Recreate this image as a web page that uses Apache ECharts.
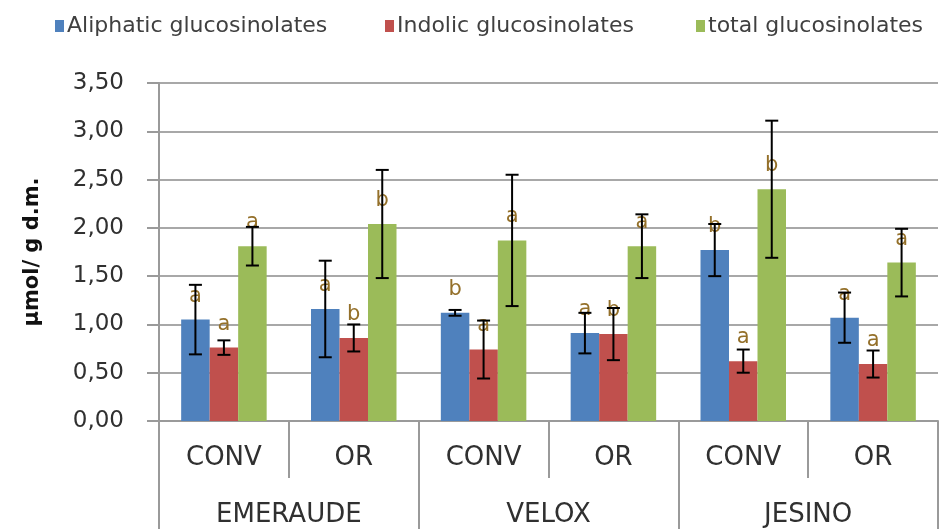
<!DOCTYPE html>
<html>
<head>
<meta charset="utf-8">
<script src="https://cdn.jsdelivr.net/npm/echarts@6/dist/echarts.min.js"></script>
<style>
  html, body { margin: 0; padding: 0; background: #fff; }
  #chart { width: 939px; height: 529px; }
</style>
</head>
<body>
<div id="chart"></div>
<script>
const treatments = ['CONV', 'OR', 'CONV', 'OR', 'CONV', 'OR'];
const varieties = ['EMERAUDE', 'VELOX', 'JESINO'];
const seriesNames = ['Aliphatic glucosinolates', 'Indolic glucosinolates', 'total glucosinolates'];
const yTicks = [0, 0.5, 1, 1.5, 2, 2.5, 3, 3.5];

const aliphatic = [1.05, 1.16, 1.12, 0.91, 1.77, 1.07];
const aliphaticErr = [0.36, 0.50, 0.03, 0.21, 0.27, 0.26];
const aliphaticLetters = ['a', 'a', 'b', 'a', 'b', 'a'];

const indolic = [0.76, 0.86, 0.74, 0.90, 0.62, 0.59];
const indolicErr = [0.075, 0.14, 0.30, 0.27, 0.12, 0.14];
const indolicLetters = ['a', 'b', 'a', 'b', 'a', 'a'];

const total = [1.81, 2.04, 1.87, 1.81, 2.40, 1.64];
const totalErr = [0.20, 0.56, 0.68, 0.33, 0.71, 0.35];
const totalLetters = ['a', 'b', 'a', 'a', 'b', 'a'];

const colors = ['#4F81BD', '#C0504D', '#9BBB59'];
const FONT = 'DejaVu Sans';
const BAR_W = 28.5;

const chart = echarts.init(document.getElementById('chart'));

const values = [aliphatic, indolic, total];
const errs = [aliphaticErr, indolicErr, totalErr];
const letters = [aliphaticLetters, indolicLetters, totalLetters];

const barSeries = values.map((vals, s) => ({
  name: seriesNames[s],
  type: 'bar',
  data: vals,
  barWidth: BAR_W,
  barGap: '0%',
  itemStyle: { color: colors[s] },
  label: {
    show: true,
    position: 'top',
    distance: 13,
    formatter: (p) => letters[s][p.dataIndex],
    color: '#94702a',
    fontFamily: FONT,
    fontSize: 21
  }
}));

// error bars drawn at each bar's centre
const errSeries = values.map((vals, s) => ({
  type: 'custom',
  z: 5,
  data: vals.map((v, i) => [i, v, errs[s][i]]),
  renderItem: function (params, api) {
    const i = api.value(0), v = api.value(1), e = api.value(2);
    const off = (s - 1) * BAR_W;
    const top = api.coord([i, v + e]);
    const bot = api.coord([i, v - e]);
    const x = top[0] + off;
    const cap = 6.5;
    const style = { stroke: '#000', lineWidth: 2 };
    return {
      type: 'group',
      children: [
        { type: 'line', shape: { x1: x, y1: top[1], x2: x, y2: bot[1] }, style },
        { type: 'line', shape: { x1: x - cap, y1: top[1], x2: x + cap, y2: top[1] }, style },
        { type: 'line', shape: { x1: x - cap, y1: bot[1], x2: x + cap, y2: bot[1] }, style }
      ]
    };
  }
}));

const legendLefts = [50, 380, 691];
const legends = seriesNames.map((n, s) => ({
  data: [n],
  left: legendLefts[s],
  top: 10,
  itemWidth: 9,
  itemHeight: 12,
  itemGap: 4,
  icon: 'rect',
  textStyle: { fontFamily: FONT, fontSize: 22, color: '#404040', padding: [0, 0, 0, -2] }
}));

const option = {
  animation: false,
  legend: legends,
  grid: { left: 159, right: 1, top: 83, bottom: 108, containLabel: false },
  xAxis: [
    {
      type: 'category',
      data: treatments,
      position: 'bottom',
      axisLine: { show: true, lineStyle: { color: '#9a9a9a', width: 2 } },
      axisTick: { show: true, interval: 0, length: 57, lineStyle: { color: '#9a9a9a', width: 2 } },
      axisLabel: { interval: 0, margin: 24, fontFamily: FONT, fontSize: 26, color: '#303030' }
    },
    {
      type: 'category',
      data: varieties,
      position: 'bottom',
      axisLine: { show: false },
      axisTick: { show: true, interval: 0, length: 110, lineStyle: { color: '#9a9a9a', width: 2 } },
      axisLabel: { interval: 0, margin: 81, fontFamily: FONT, fontSize: 26, color: '#303030' }
    }
  ],
  yAxis: {
    type: 'value',
    min: yTicks[0],
    max: yTicks[yTicks.length - 1],
    interval: 0.5,
    name: 'µmol/ g d.m.',
    nameLocation: 'middle',
    nameGap: 116,
    nameRotate: 90,
    nameTextStyle: { fontFamily: FONT, fontSize: 21, fontWeight: 'bold', color: '#111' },
    axisLine: { show: true, lineStyle: { color: '#9a9a9a', width: 2 } },
    axisTick: { show: true, length: 12, lineStyle: { color: '#9a9a9a', width: 2 } },
    axisLabel: {
      margin: 35,
      fontFamily: FONT,
      fontSize: 23,
      color: '#303030',
      formatter: (v) => v.toFixed(2).replace('.', ',')
    },
    splitLine: { show: true, lineStyle: { color: '#a8a8a8', width: 2 } }
  },
  series: barSeries.concat(errSeries)
};

chart.setOption(option);
</script>
</body>
</html>
